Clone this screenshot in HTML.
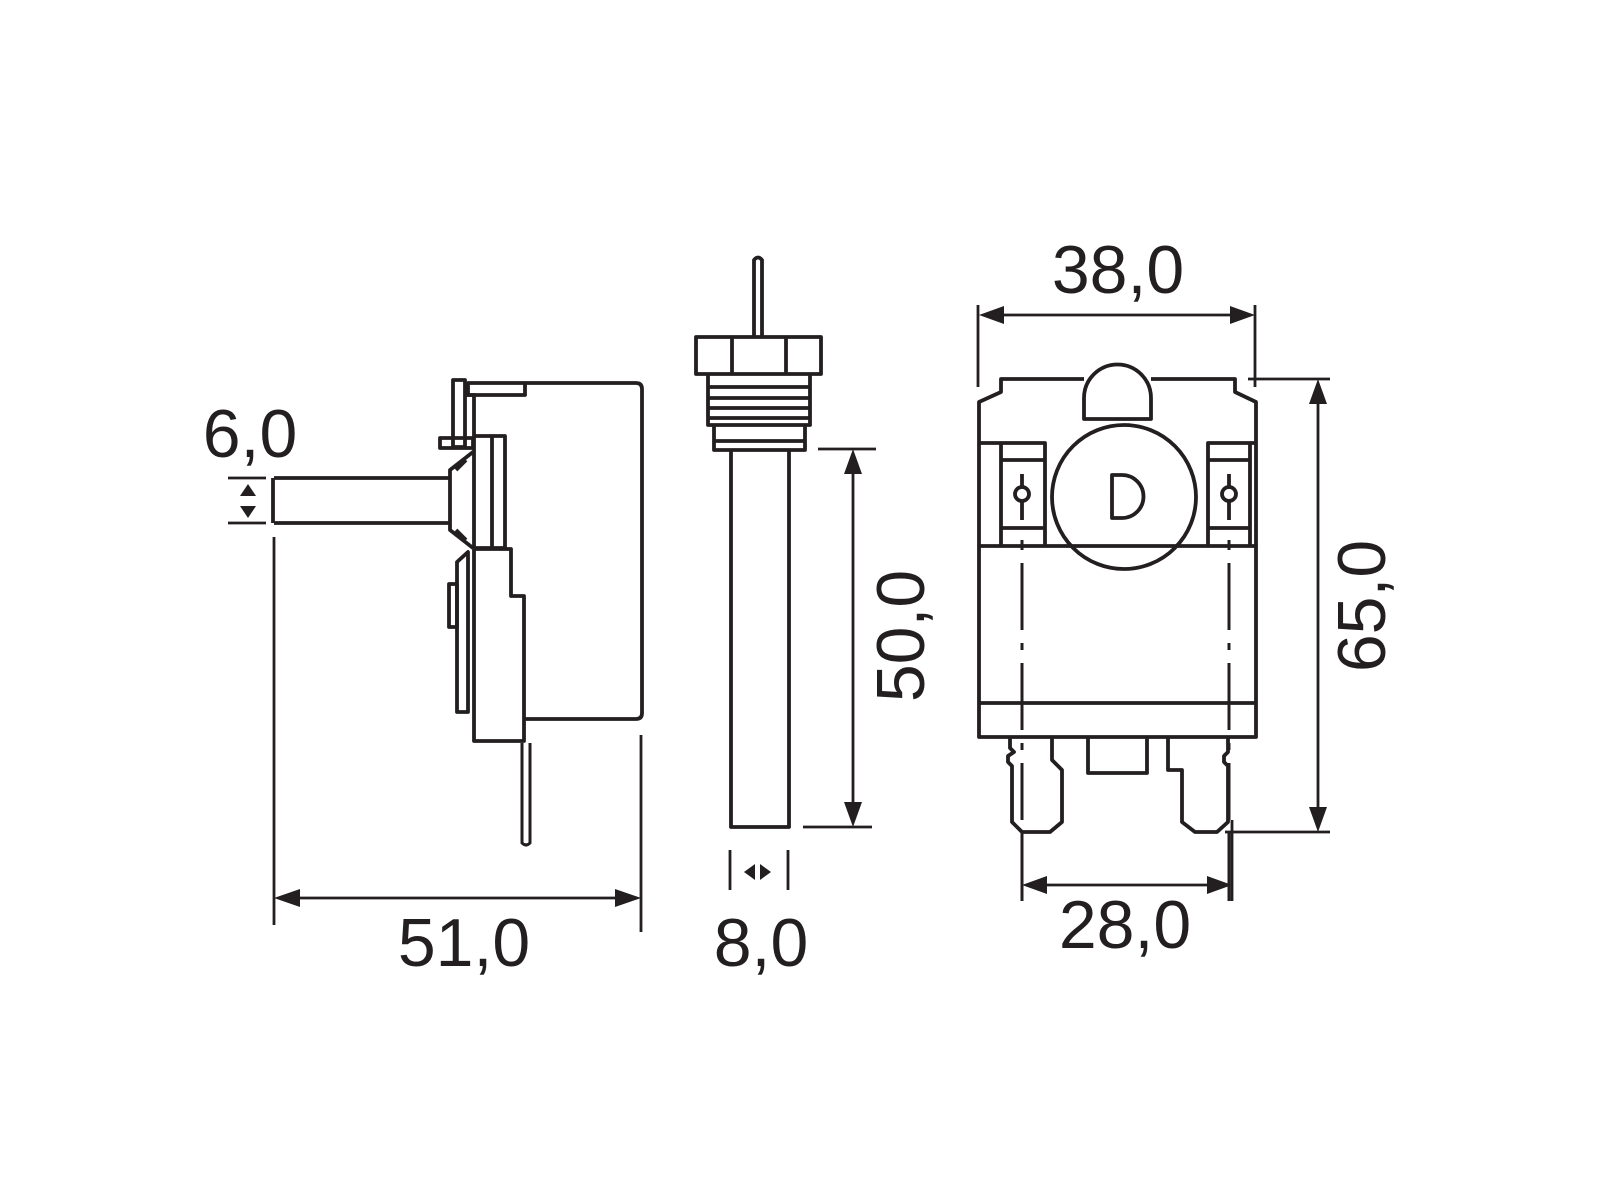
<!DOCTYPE html>
<html><head><meta charset="utf-8"><style>
html,body{margin:0;padding:0;background:#fff;}
svg{display:block;}
text{font-family:"Liberation Sans",sans-serif;fill:#231f20;font-size:68px;}
</style></head><body>
<svg width="1600" height="1200" viewBox="0 0 1600 1200" xmlns="http://www.w3.org/2000/svg">
<g fill="none" stroke="#231f20" stroke-width="3.8" stroke-linejoin="round">
<!-- LEFT VIEW -->
<path d="M525 383 H636 Q642 383 642 389 V713 Q642 719 636 719 H525"/>
<path d="M468 383 H525 V395 H468 Z"/>
<path d="M453 380 H465 V447 H453 Z"/>
<path d="M440 438 H473 V448 H440 Z"/>
<path d="M465 395 H474 V548"/>
<path d="M474 436 H505 V548 H474"/>
<line x1="492" y1="436" x2="492" y2="548"/>
<path d="M473 452 L450 470 V530 L473 548"/>
<path d="M466 460 L456 470 M456 530 L466 540"/>
<path d="M274 478 H450 M274 523 H450 M273 478 V523"/>
<path d="M474 549 H511 V596 H524 V741 H474 Z"/>
<path d="M468 552 V712 H457 V562 Z"/>
<path d="M449 584 H457 V627 H449 Z"/>
<path d="M522 743 V843 Q526 847 530 843 V743" stroke-width="3"/>
<!-- MIDDLE VIEW -->
<path d="M754 337 V260 Q758 255 762 260 V337"/>
<path d="M696 337 H821 V374 H696 Z"/>
<line x1="732" y1="337" x2="732" y2="374"/>
<line x1="786" y1="337" x2="786" y2="374"/>
<path d="M708 374 V425 H810 V374"/>
<path d="M708 387 H810 M708 398 H810 M708 408 H810 M708 418 H810"/>
<path d="M714 425 V450 H805 V425 M714 441 H805"/>
<path d="M731 450 V827 H789 V450"/>
<!-- RIGHT VIEW -->
<path d="M1084 379 H1001 V392 L979 402 V546 M1151 379 H1235 V392 L1256 402 V546"/>
<path d="M1084 419 V398 A33.5 33.5 0 0 1 1151 398 V419 Z"/>
<path d="M979 443 H1001 V546 M1045 546 V443 H1001"/>
<path d="M1256 443 H1250 V546 M1208 546 V443 H1250"/>
<path d="M1001 460 H1045 M1001 528 H1045 M1208 460 H1250 M1208 528 H1250"/>
<circle cx="1022" cy="494" r="7"/>
<circle cx="1229" cy="494" r="7"/>
<path d="M1022 474 V487 M1022 501 V520 M1229 474 V487 M1229 501 V520"/>
<circle cx="1124" cy="497" r="72"/>
<path d="M1112 475 V518 H1122 A21.5 21.5 0 0 0 1122 475 Z"/>
<path d="M979 546 H1256 V737 H979 Z"/>
<line x1="979" y1="703" x2="1256" y2="703"/>
<path d="M1010 737 V748 L1014 752 L1008 756 V762 L1012 766 V822 L1022 832 H1050 L1062 822 V770 L1052 760 V737"/>
<path d="M1088 737 V773 H1147 V737"/>
<path d="M1168 737 V770 H1182 V822 L1195 832 H1217 L1228 822 V766 L1224 762 V756 L1228 752 V737"/>
<path d="M1022 540 V550 M1022 563 V630 M1022 643 V650 M1022 663 V730 M1022 743 V750 M1022 763 V820 M1022 833 V901" stroke-width="3"/>
<path d="M1229 540 V550 M1229 563 V630 M1229 643 V650 M1229 663 V730 M1229 743 V750 M1229 763 V820 M1229 833 V901" stroke-width="3"/>
</g>
<!-- DIMENSIONS -->
<g stroke="#231f20" stroke-width="2.8" fill="none">
<path d="M228 478 H266 M228 523 H266"/>
<path d="M274 537 V925 M641 735 V932 M280 898 H635"/>
<path d="M730 850 V890 M788 850 V890"/>
<path d="M818 449 H876 M853 455 V822 M803 827 H872"/>
<path d="M978 305 V387 M1255 305 V387 M985 315 H1249"/>
<path d="M1248 379 H1330 M1318 385 V826 M1225 832 H1330"/>
<path d="M1022 880 V901 M1232 820 V901 M1028 885 H1226"/>
</g>
<g fill="#231f20">
<path d="M248 484 L240 496 H256 Z M248 518 L240 506 H256 Z"/>
<path d="M274 898 L300 889 V907 Z M641 898 L615 889 V907 Z"/>
<path d="M744 872 L755 864 V880 Z M771 872 L760 864 V880 Z"/>
<path d="M853 449 L844 474 H862 Z M853 827 L844 802 H862 Z"/>
<path d="M979 315 L1004 306 V324 Z M1255 315 L1230 306 V324 Z"/>
<path d="M1318 379 L1309 404 H1327 Z M1318 832 L1309 807 H1327 Z"/>
<path d="M1022 885 L1047 876 V894 Z M1232 885 L1207 876 V894 Z"/>
</g>
<text x="250" y="457" text-anchor="middle">6,0</text>
<text x="464" y="966" text-anchor="middle">51,0</text>
<text x="761" y="966" text-anchor="middle">8,0</text>
<text x="1118" y="293" text-anchor="middle">38,0</text>
<text x="1125" y="948" text-anchor="middle">28,0</text>
<text transform="translate(924 636) rotate(-90)" text-anchor="middle">50,0</text>
<text transform="translate(1385 606) rotate(-90)" text-anchor="middle">65,0</text>
</svg>
</body></html>
